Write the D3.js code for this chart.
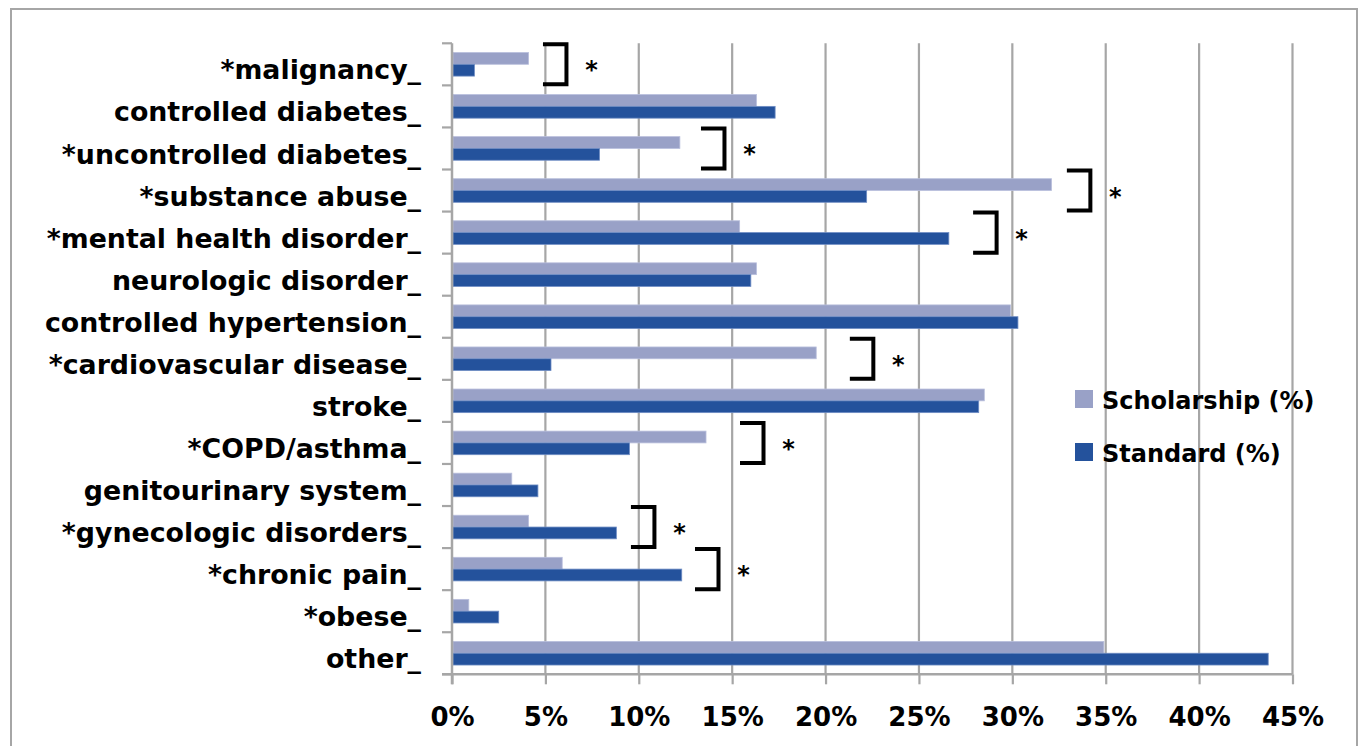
<!DOCTYPE html>
<html>
<head>
<meta charset="utf-8">
<script src="https://cdn.jsdelivr.net/npm/d3@7"></script>
<style>
  html, body { margin: 0; padding: 0; background: #fff; }
  svg text { font-family: "DejaVu Sans", sans-serif; font-weight: bold; fill: #000; }
</style>
</head>
<body>
<svg id="chart" width="1361" height="746"></svg>
<script>
// ---- data ----
const categories = [
  "*malignancy_", "controlled diabetes_", "*uncontrolled diabetes_", "*substance abuse_",
  "*mental health disorder_", "neurologic disorder_", "controlled hypertension_",
  "*cardiovascular disease_", "stroke_", "*COPD/asthma_", "genitourinary system_",
  "*gynecologic disorders_", "*chronic pain_", "*obese_", "other_"
];
const seriesNames = ["Scholarship (%)", "Standard (%)"];
const scholarship = [4.1, 16.3, 12.2, 32.1, 15.4, 16.3, 29.9, 19.5, 28.5, 13.6, 3.2, 4.1, 5.9, 0.9, 34.9];
const standard    = [1.2, 17.3, 7.9, 22.2, 26.6, 16.0, 30.3, 5.3, 28.2, 9.5, 4.6, 8.8, 12.3, 2.5, 43.7];
const xTicks = [0, 5, 10, 15, 20, 25, 30, 35, 40, 45];
// significance brackets: category and bracket position (in % on the x axis)
const bracketCats = ["*malignancy_", "*uncontrolled diabetes_", "*substance abuse_", "*mental health disorder_",
                     "*cardiovascular disease_", "*COPD/asthma_", "*gynecologic disorders_", "*chronic pain_"];
const bracketAt   = [4.87, 13.33, 32.92, 27.9, 21.3, 15.42, 9.58, 13.01];

// ---- layout ----
const colors = ["#99a1c7", "#24529c"];
const strokes = ["#b9bfdc", "#6f8dc4"];
const plotL = 452, plotR = 1292.5, plotT = 43.3, plotB = 674.3;

const svg = d3.select("#chart");

// outer frame
svg.append("rect").attr("x", 11).attr("y", 9).attr("width", 1346).attr("height", 750)
  .attr("fill", "none").attr("stroke", "#a6a6a6").attr("stroke-width", 2);

const x = d3.scaleLinear().domain([0, 45]).range([plotL, plotR]);
const y = d3.scaleBand().domain(categories).range([plotT, plotB]).paddingInner(0).paddingOuter(0);
const yInner = d3.scaleBand().domain(seriesNames).range([9.2, 32.8]);

// gridlines
svg.append("g").selectAll("line").data(xTicks.filter(d => d > 0)).join("line")
  .attr("x1", d => x(d)).attr("x2", d => x(d))
  .attr("y1", plotT).attr("y2", plotB)
  .attr("stroke", "#a6a6a6").attr("stroke-width", 2.2);

// bars
const rows = categories.map((c, i) => ({ cat: c, vals: [scholarship[i], standard[i]] }));
const gRow = svg.append("g").selectAll("g").data(rows).join("g")
  .attr("transform", d => `translate(0,${y(d.cat)})`);
gRow.selectAll("rect").data(d => d.vals.map((v, k) => ({ v, k }))).join("rect")
  .attr("x", x(0) + 1)
  .attr("y", d => yInner(seriesNames[d.k]))
  .attr("width", d => x(d.v) - x(0) - 1)
  .attr("height", yInner.bandwidth())
  .attr("fill", d => colors[d.k])
  .attr("stroke", d => strokes[d.k])
  .attr("stroke-width", 0.8);

// x axis
const xAxis = d3.axisBottom(x).tickValues(xTicks).tickFormat(d => d + "%").tickSize(10).tickPadding(23);
const gx = svg.append("g").attr("transform", `translate(0,${plotB})`).call(xAxis);
gx.select(".domain").attr("stroke", "#a6a6a6").attr("stroke-width", 2.5).attr("d", `M${plotL - 10},0H${plotR}`);
gx.selectAll(".tick line").attr("stroke", "#a6a6a6").attr("stroke-width", 2.2);
gx.selectAll(".tick text").style("font-size", "26px").attr("font-family", null);

// y axis line + boundary ticks
svg.append("line").attr("x1", plotL).attr("x2", plotL).attr("y1", plotT).attr("y2", plotB + 10)
  .attr("stroke", "#a6a6a6").attr("stroke-width", 2.5);
const bounds = categories.map(c => y(c)).concat([plotB]);
svg.append("g").selectAll("line").data(bounds).join("line")
  .attr("x1", plotL - 10).attr("x2", plotL).attr("y1", d => d).attr("y2", d => d)
  .attr("stroke", "#a6a6a6").attr("stroke-width", 2.2);

// category labels
svg.append("g").selectAll("text").data(categories).join("text")
  .attr("x", 421).attr("y", d => y(d) + y.bandwidth() - 6)
  .attr("text-anchor", "end").style("font-size", "26.8px")
  .text(d => d);

// significance brackets
const bw = 23.5;
const br = svg.append("g").selectAll("g").data(bracketCats.map((c, i) => ({ c, p: bracketAt[i] }))).join("g");
br.append("path")
  .attr("d", d => {
    const x0 = x(d.p), y0 = y(d.c) + 1, y1 = y(d.c) + y.bandwidth() - 1;
    return `M${x0},${y0}H${x0 + bw}V${y1}H${x0}`;
  })
  .attr("fill", "none").attr("stroke", "#000").attr("stroke-width", 4);
br.append("text")
  .attr("x", d => x(d.p) + bw + 25).attr("y", d => y(d.c) + y.bandwidth() / 2 + 14)
  .attr("text-anchor", "middle").style("font-size", "24px")
  .text("*");

// legend
const leg = svg.append("g").selectAll("g").data(seriesNames).join("g")
  .attr("transform", (d, i) => `translate(1075,${390 + i * 53})`);
leg.append("rect").attr("width", 18).attr("height", 18).attr("fill", (d, i) => colors[i]);
leg.append("text").attr("x", 27).attr("y", 19).style("font-size", "24px").text(d => d);
</script>
</body>
</html>
